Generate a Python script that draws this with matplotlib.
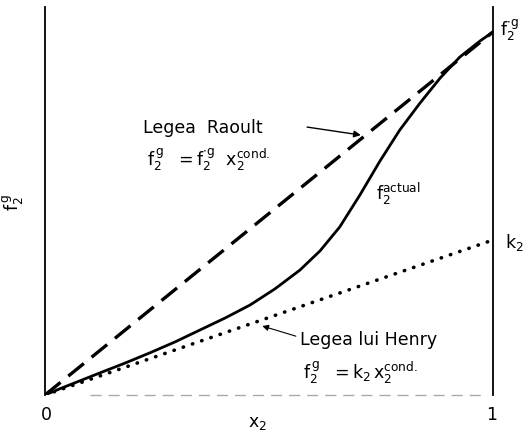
import matplotlib.pyplot as plt

plt.rcParams['font.family'] = ['DejaVu Sans']
plt.rcParams['mathtext.default'] = 'regular'

# fraction molaire x2 et fugacites (f2 pur = 1)
x_ideal = [0.0, 1.0]
raoult = [0.0, 1.0]
henry = [0.0, 0.427]

x_reel = [0.0, 0.033, 0.078, 0.123, 0.179, 0.234, 0.290, 0.346, 0.402, 0.458,
          0.513, 0.569, 0.614, 0.658, 0.703, 0.748, 0.792, 0.837, 0.882,
          0.926, 0.971, 1.0]
f_reel = [0.0, 0.017, 0.039, 0.061, 0.088, 0.116, 0.146, 0.179, 0.212, 0.248,
          0.292, 0.344, 0.397, 0.463, 0.551, 0.645, 0.730, 0.804, 0.873,
          0.931, 0.975, 1.0]

fig = plt.figure(figsize=(5.28, 4.39), dpi=100)
ax = fig.add_axes([0.0852, 0.098, 0.8485, 0.884])

ax.plot(x_ideal, raoult, color='black', lw=2.4, dashes=(6, 3), solid_capstyle='butt')
ax.plot(x_ideal, henry, color='black', lw=2.6, linestyle=(0, (0.1, 2.6)),
        dash_capstyle='round')
ax.plot(x_reel, f_reel, color='black', lw=2.0)

ax.set_xlim(0, 1)
ax.set_ylim(0, 1.069)
ax.set_xticks([])
ax.set_yticks([])
ax.spines['top'].set_visible(False)
ax.spines['left'].set_linewidth(1.3)
ax.spines['right'].set_linewidth(1.3)
ax.spines['bottom'].set_visible(False)
ax.plot([0.1, 0.98], [0, 0], color='#aaaaaa', lw=1.0, dashes=(8, 5), clip_on=False)

fs = 12.5
# legea lui Raoult
ax.text(0.219, 0.738, 'Legea  Raoult', fontsize=fs, va='center', ha='left')
ax.annotate('', xy=(0.705, 0.716), xytext=(0.585, 0.738),
            arrowprops=dict(arrowstyle='-|>', color='black', lw=1.0,
                            mutation_scale=10, shrinkA=0, shrinkB=0))
ax.text(0.228, 0.650, r'$f_2^{\,g}\ \ = f_2^{\cdot g}\ \ x_2^{cond.}$', fontsize=fs,
        va='center', ha='left')

# curba reala
ax.text(0.738, 0.556, r'$f_2^{actual}$', fontsize=fs, va='center', ha='left')

# legea lui Henry
ax.text(0.569, 0.154, 'Legea lui Henry', fontsize=fs, va='center', ha='left')
ax.annotate('', xy=(0.485, 0.190), xytext=(0.560, 0.162),
            arrowprops=dict(arrowstyle='-|>', color='black', lw=0.8,
                            mutation_scale=9, shrinkA=0, shrinkB=0))
ax.text(0.576, 0.063, r'$f_2^{\,g}\ \ = k_2\,x_2^{cond.}$', fontsize=fs,
        va='center', ha='left')

# etichete axe
ax.text(1.016, 1.008, r'$f_2^{\cdot g}$', fontsize=fs, va='center', ha='left')
ax.text(1.027, 0.424, r'$k_2$', fontsize=fs, va='center', ha='left')
ax.text(0.004, -0.052, '0', fontsize=fs, va='center', ha='center')
ax.text(0.998, -0.052, '1', fontsize=fs, va='center', ha='center')
ax.text(0.475, -0.074, r'$x_2$', fontsize=fs, va='center', ha='center')
ax.text(-0.071, 0.532, r'$f_2^{\,g}$', fontsize=fs, va='center', ha='center',
        rotation=90)

fig.savefig('out.png', dpi=100)
